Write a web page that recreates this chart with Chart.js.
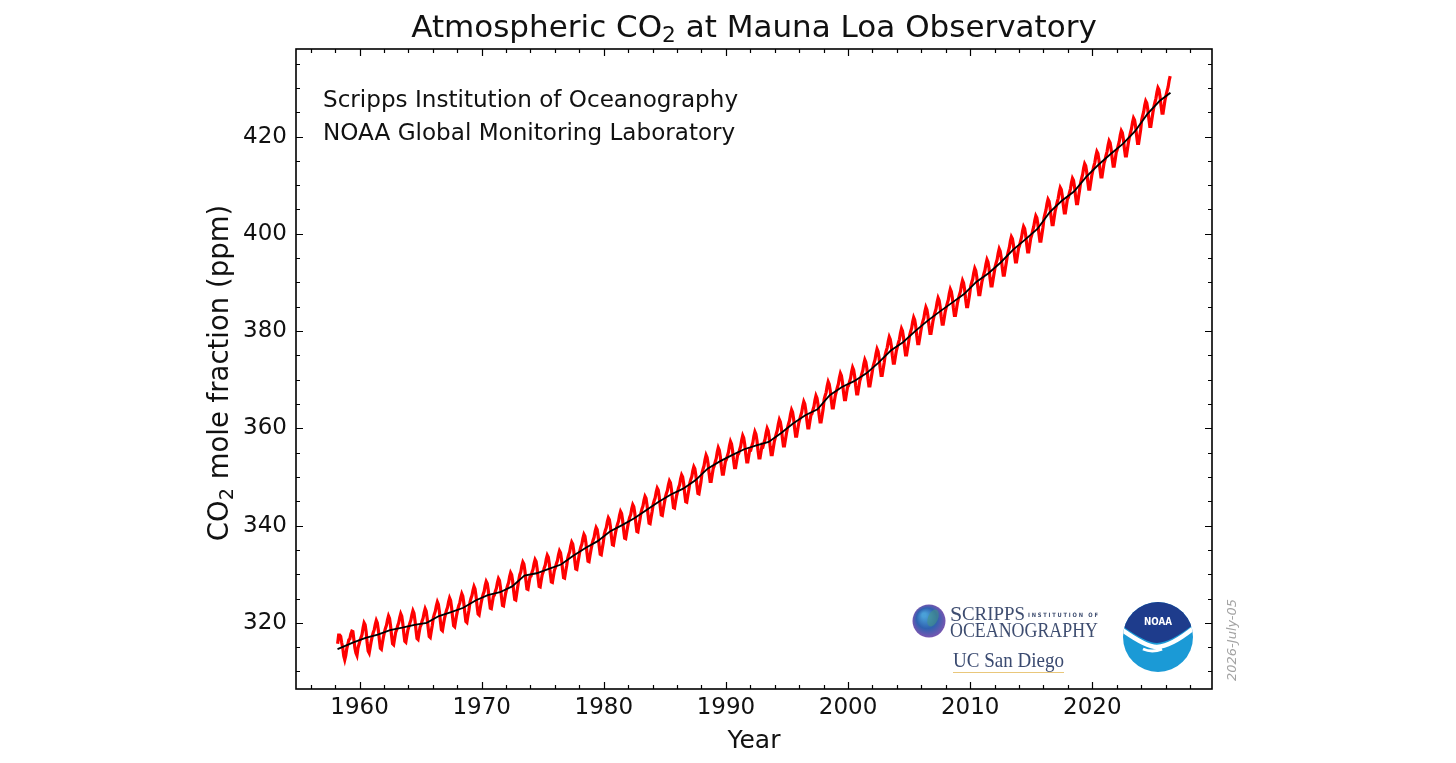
<!DOCTYPE html>
<html>
<head>
<meta charset="utf-8">
<title>Atmospheric CO2 at Mauna Loa Observatory</title>
<script src="https://cdn.jsdelivr.net/npm/chart.js@4.4.1/dist/chart.umd.min.js"></script>
<style>
  html, body { margin: 0; padding: 0; background: #fff; }
  canvas { display: block; }
</style>
</head>
<body>
<canvas id="co2Chart" width="1456" height="763"></canvas>
<script>
// monthly mean CO2 (ppm), first value is March 1958
const firstYear = 1958;
const firstMonth = 3;
const co2_1958_59 = [
  315.7, 317.5, 317.5, 317.2, 315.9, 314.9, 313.2, 312.4, 313.3, 314.7,
  315.6, 316.5, 316.7, 317.7, 318.3, 318.2, 316.5, 314.8, 313.8, 313.3, 314.8, 315.6
];
const co2_1960s = [
  316.4, 317.0, 317.6, 319.0, 320.0, 319.6, 318.2, 315.9, 314.2, 313.8, 315.0, 316.2,
  317.2, 318.0, 318.6, 319.7, 320.5, 320.0, 318.5, 316.5, 314.8, 314.6, 315.9, 317.1,
  318.1, 318.9, 319.5, 320.6, 321.4, 320.9, 319.4, 317.4, 315.7, 315.5, 316.8, 318.0,
  318.6, 319.4, 320.0, 321.1, 321.9, 321.4, 319.9, 317.9, 316.2, 316.0, 317.3, 318.5,
  319.2, 320.0, 320.6, 321.7, 322.5, 322.0, 320.5, 318.5, 316.8, 316.6, 317.9, 319.1,
  319.6, 320.4, 321.0, 322.1, 322.9, 322.4, 320.9, 318.9, 317.2, 317.0, 318.3, 319.5,
  321.0, 321.8, 322.4, 323.5, 324.3, 323.8, 322.3, 320.3, 318.6, 318.4, 319.7, 320.9,
  321.8, 322.6, 323.2, 324.3, 325.1, 324.6, 323.1, 321.1, 319.4, 319.2, 320.5, 321.7,
  322.7, 323.5, 324.1, 325.2, 326.0, 325.5, 324.0, 322.0, 320.3, 320.1, 321.4, 322.6,
  324.2, 325.0, 325.6, 326.7, 327.5, 327.0, 325.5, 323.5, 321.8, 321.6, 322.9, 324.1
];
const co2_1970s = [
  325.1, 325.9, 326.5, 327.7, 328.5, 328.1, 326.7, 324.7, 323.0, 322.9, 324.2, 325.4,
  325.7, 326.5, 327.1, 328.3, 329.1, 328.7, 327.3, 325.3, 323.6, 323.5, 324.8, 326.0,
  326.9, 327.7, 328.3, 329.5, 330.3, 329.9, 328.5, 326.5, 324.8, 324.7, 326.1, 327.5,
  328.8, 329.9, 330.5, 331.7, 332.5, 332.1, 330.7, 328.7, 327.0, 326.9, 328.2, 329.4,
  329.6, 330.4, 331.0, 332.2, 333.0, 332.6, 331.2, 329.2, 327.5, 327.4, 328.7, 329.9,
  330.5, 331.3, 331.9, 333.1, 333.9, 333.5, 332.1, 330.1, 328.4, 328.3, 329.6, 330.8,
  331.4, 332.2, 332.8, 334.0, 334.8, 334.4, 333.0, 331.0, 329.3, 329.2, 330.5, 331.7,
  333.2, 334.0, 334.6, 335.8, 336.6, 336.2, 334.8, 332.8, 331.1, 331.0, 332.3, 333.5,
  334.8, 335.6, 336.2, 337.4, 338.2, 337.8, 336.4, 334.4, 332.7, 332.6, 333.9, 335.1,
  336.2, 337.0, 337.6, 338.8, 339.6, 339.2, 337.8, 335.8, 334.1, 334.0, 335.3, 336.5
];
const co2_1980s = [
  338.2, 339.0, 339.6, 340.8, 341.6, 341.2, 339.8, 337.8, 336.1, 336.0, 337.3, 338.5,
  339.5, 340.3, 340.9, 342.1, 342.9, 342.5, 341.1, 339.1, 337.4, 337.3, 338.6, 339.8,
  340.9, 341.7, 342.3, 343.5, 344.3, 343.9, 342.5, 340.5, 338.8, 338.7, 340.0, 341.2,
  342.6, 343.4, 344.0, 345.2, 346.0, 345.6, 344.2, 342.2, 340.5, 340.4, 341.7, 342.9,
  344.3, 345.1, 345.7, 346.9, 347.7, 347.3, 345.9, 343.9, 342.2, 342.1, 343.4, 344.6,
  345.8, 346.6, 347.2, 348.4, 349.2, 348.8, 347.4, 345.4, 343.7, 343.6, 344.9, 346.1,
  347.0, 347.8, 348.4, 349.6, 350.4, 350.0, 348.6, 346.6, 344.9, 344.8, 346.1, 347.3,
  348.7, 349.5, 350.1, 351.3, 352.1, 351.7, 350.3, 348.3, 346.6, 346.5, 347.8, 349.0,
  350.8, 351.6, 352.3, 353.6, 354.5, 354.0, 352.7, 350.7, 349.1, 349.1, 350.4, 351.7,
  352.3, 353.1, 353.8, 355.1, 356.0, 355.5, 354.2, 352.2, 350.6, 350.6, 351.9, 353.2
];
const co2_1990s = [
  353.6, 354.4, 355.1, 356.4, 357.3, 356.8, 355.5, 353.5, 351.9, 351.9, 353.2, 354.5,
  354.8, 355.6, 356.3, 357.6, 358.5, 358.0, 356.7, 354.7, 353.1, 353.1, 354.4, 355.7,
  355.6, 356.4, 357.1, 358.4, 359.3, 358.8, 357.5, 355.5, 353.9, 353.9, 355.2, 356.5,
  356.3, 357.1, 357.8, 359.1, 360.0, 359.5, 358.2, 356.2, 354.6, 354.6, 355.9, 357.2,
  358.1, 358.9, 359.6, 360.9, 361.8, 361.3, 360.0, 358.0, 356.4, 356.4, 357.7, 359.0,
  360.1, 360.9, 361.6, 362.9, 363.8, 363.3, 362.0, 360.0, 358.4, 358.4, 359.7, 361.0,
  361.8, 362.6, 363.3, 364.6, 365.5, 365.0, 363.7, 361.7, 360.1, 360.1, 361.4, 362.7,
  363.0, 363.8, 364.5, 365.8, 366.7, 366.2, 364.9, 362.9, 361.3, 361.3, 362.6, 363.9,
  365.9, 366.7, 367.4, 368.7, 369.6, 369.1, 367.8, 365.8, 364.2, 364.2, 365.5, 366.8,
  367.6, 368.4, 369.1, 370.4, 371.3, 370.8, 369.5, 367.5, 365.9, 365.9, 367.2, 368.5
];
const co2_2000s = [
  368.8, 369.6, 370.3, 371.6, 372.5, 372.0, 370.7, 368.7, 367.1, 367.1, 368.4, 369.7,
  370.4, 371.2, 371.9, 373.2, 374.1, 373.6, 372.3, 370.3, 368.7, 368.7, 370.0, 371.3,
  372.6, 373.4, 374.1, 375.4, 376.3, 375.8, 374.5, 372.5, 370.9, 370.9, 372.2, 373.5,
  375.1, 375.9, 376.6, 377.9, 378.8, 378.3, 377.0, 375.0, 373.4, 373.4, 374.7, 376.0,
  376.8, 377.6, 378.3, 379.6, 380.5, 380.0, 378.7, 376.7, 375.1, 375.1, 376.4, 377.7,
  379.1, 379.9, 380.6, 381.9, 382.8, 382.3, 381.0, 379.0, 377.4, 377.4, 378.7, 380.0,
  381.2, 382.0, 382.7, 384.0, 384.9, 384.4, 383.1, 381.1, 379.5, 379.5, 380.8, 382.1,
  383.1, 383.9, 384.6, 385.9, 386.8, 386.3, 385.0, 383.0, 381.4, 381.4, 382.7, 384.0,
  384.9, 385.7, 386.4, 387.7, 388.6, 388.1, 386.8, 384.8, 383.2, 383.2, 384.5, 385.8,
  386.7, 387.5, 388.2, 389.5, 390.4, 389.9, 388.6, 386.6, 385.0, 385.0, 386.3, 387.6
];
const co2_2010s = [
  389.2, 390.0, 390.7, 392.0, 392.9, 392.4, 391.1, 389.1, 387.5, 387.5, 388.8, 390.1,
  391.0, 391.8, 392.5, 393.8, 394.7, 394.2, 392.9, 390.9, 389.3, 389.3, 390.6, 391.9,
  393.2, 394.0, 394.7, 396.0, 396.9, 396.4, 395.1, 393.1, 391.5, 391.5, 392.8, 394.1,
  395.5, 396.4, 397.2, 398.5, 399.4, 399.0, 397.7, 395.8, 394.2, 394.2, 395.6, 397.0,
  397.6, 398.5, 399.3, 400.6, 401.5, 401.1, 399.8, 397.9, 396.3, 396.3, 397.7, 399.1,
  399.8, 400.7, 401.5, 402.8, 403.7, 403.3, 402.0, 400.1, 398.5, 398.5, 399.9, 401.3,
  403.2, 404.1, 404.9, 406.2, 407.1, 406.7, 405.4, 403.5, 401.9, 401.9, 403.3, 404.7,
  405.6, 406.5, 407.3, 408.6, 409.5, 409.1, 407.8, 405.9, 404.3, 404.3, 405.7, 407.1,
  407.5, 408.4, 409.2, 410.5, 411.4, 411.0, 409.7, 407.8, 406.2, 406.2, 407.6, 409.0,
  410.5, 411.4, 412.2, 413.5, 414.4, 414.0, 412.7, 410.8, 409.2, 409.2, 410.6, 412.0
];
const co2_2020s = [
  413.0, 413.9, 414.7, 416.0, 416.9, 416.5, 415.2, 413.3, 411.7, 411.7, 413.1, 414.5,
  415.2, 416.1, 416.9, 418.2, 419.1, 418.7, 417.4, 415.5, 413.9, 413.9, 415.3, 416.7,
  417.3, 418.2, 419.0, 420.3, 421.2, 420.8, 419.5, 417.6, 416.0, 416.0, 417.4, 418.8,
  419.9, 420.8, 421.6, 422.9, 423.8, 423.4, 422.1, 420.2, 418.6, 418.6, 420.0, 421.4,
  423.4, 424.3, 425.1, 426.4, 427.3, 426.9, 425.6, 423.7, 422.1, 422.1, 423.5, 424.9,
  426.1, 427.0, 427.8, 429.1, 430.0, 429.6, 428.3, 426.4, 424.8, 424.8, 426.2, 427.6,
  428.5, 429.4, 430.2, 431.5, 432.4
];

// seasonally corrected trend: start point, annual means 1959-2025 (mid-year), end point
const trendStart = { x: 1958.2, y: 314.6 };
const trendEnd = { x: 2026.4, y: 429.0 };
const trendFirstYear = 1959;
const trendMeans = [
  316.0, 316.9, 317.6, 318.5, 319.0, 319.6, 320.0, 321.4, 322.2,
  323.1, 324.6, 325.7, 326.3, 327.5, 329.7, 330.2, 331.1, 332.0, 333.8,
  335.4, 336.8, 338.8, 340.1, 341.5, 343.2, 344.9, 346.4, 347.6, 349.3,
  351.7, 353.2, 354.5, 355.7, 356.5, 357.2, 359.0, 361.0, 362.7, 363.9,
  366.8, 368.5, 369.7, 371.3, 373.5, 376.0, 377.7, 380.0, 382.1, 384.0,
  385.8, 387.6, 390.1, 391.9, 394.1, 396.7, 398.8, 401.0, 404.4, 406.8,
  408.7, 411.7, 414.2, 416.4, 418.5, 421.1, 424.6, 427.3
];

const xTicks = [1960, 1970, 1980, 1990, 2000, 2010, 2020];
const yTicks = [320, 340, 360, 380, 400, 420];
const xRange = [1954.8, 2029.8];
const yRange = [306.4, 438.0];

const monthly = [].concat(co2_1958_59, co2_1960s, co2_1970s, co2_1980s, co2_1990s, co2_2000s, co2_2010s, co2_2020s);
const monthlyPoints = monthly.map((v, i) => ({ x: firstYear + (firstMonth - 1 + i + 0.5) / 12, y: v }));
const trendPoints = [trendStart].concat(trendMeans.map((v, i) => ({ x: trendFirstYear + i + 0.5, y: v })), [trendEnd]);

const FONT = "'DejaVu Sans', sans-serif";

// text pieces, {sub:true} pieces are drawn as subscript
function pieceWidth(ctx, parts, size) {
  let w = 0;
  parts.forEach(p => {
    ctx.font = (p.sub ? size * 0.7 : size) + 'px ' + FONT;
    w += ctx.measureText(p.t).width;
  });
  return w;
}
function drawPieces(ctx, parts, size, x, y) {
  let cx = x - pieceWidth(ctx, parts, size) / 2;
  ctx.textAlign = 'left';
  ctx.textBaseline = 'alphabetic';
  parts.forEach(p => {
    ctx.font = (p.sub ? size * 0.7 : size) + 'px ' + FONT;
    ctx.fillText(p.t, cx, p.sub ? y + size * 0.17 : y);
    cx += ctx.measureText(p.t).width;
  });
}

function drawLogos(ctx) {
  // scripps globe
  const g = ctx.createRadialGradient(924, 615, 2, 929, 621, 17);
  g.addColorStop(0, '#4aa0d8');
  g.addColorStop(0.55, '#2f62b0');
  g.addColorStop(1, '#7b55b0');
  ctx.fillStyle = g;
  ctx.beginPath(); ctx.arc(929, 621, 16.5, 0, Math.PI * 2); ctx.fill();
  ctx.fillStyle = 'rgba(70,150,130,0.55)';
  ctx.beginPath(); ctx.ellipse(933, 618, 5, 9, 0.4, 0, Math.PI * 2); ctx.fill();

  ctx.fillStyle = '#3e4d70';
  ctx.textAlign = 'left';
  ctx.textBaseline = 'alphabetic';
  ctx.font = "22px 'Liberation Serif', serif";
  ctx.fillText('S', 950, 621);
  ctx.font = "19px 'Liberation Serif', serif";
  ctx.fillText('CRIPPS', 962, 620, 63);
  ctx.font = "bold 6px 'DejaVu Sans', sans-serif";
  ctx.fillText('I N S T I T U T I O N   O F', 1028, 617, 70);
  ctx.font = "20px 'Liberation Serif', serif";
  ctx.fillText('OCEANOGRAPHY', 950, 637, 148);
  ctx.fillStyle = '#3a4a70';
  ctx.font = "21px 'Liberation Serif', serif";
  ctx.fillText('UC San Diego', 953, 667, 111);
  ctx.strokeStyle = '#e9c77b';
  ctx.lineWidth = 1;
  ctx.beginPath(); ctx.moveTo(953, 672.5); ctx.lineTo(1064, 672.5); ctx.stroke();

  // noaa emblem
  const cx = 1158, cy = 637, r = 35;
  ctx.save();
  ctx.beginPath(); ctx.arc(cx, cy, r, 0, Math.PI * 2);
  ctx.fillStyle = '#1b9ad6';
  ctx.fill();
  ctx.clip();
  ctx.fillStyle = '#1e3c8c';
  ctx.beginPath();
  ctx.moveTo(cx - r - 2, cy - 12);
  ctx.quadraticCurveTo(cx - 12, cy + 6, cx - 1, cy + 6);
  ctx.quadraticCurveTo(cx + 14, cy + 5, cx + r + 2, cy - 14);
  ctx.lineTo(cx + r + 2, cy - r - 2);
  ctx.lineTo(cx - r - 2, cy - r - 2);
  ctx.closePath();
  ctx.fill();
  ctx.strokeStyle = '#fff';
  ctx.lineWidth = 4.5;
  ctx.beginPath();
  ctx.moveTo(cx - r - 2, cy - 8);
  ctx.quadraticCurveTo(cx - 12, cy + 10, cx - 1, cy + 10);
  ctx.quadraticCurveTo(cx + 14, cy + 9, cx + r + 2, cy - 10);
  ctx.stroke();
  ctx.lineWidth = 3;
  ctx.beginPath();
  ctx.moveTo(cx - 15, cy + 12);
  ctx.quadraticCurveTo(cx - 6, cy + 16, cx + 4, cy + 12);
  ctx.stroke();
  ctx.restore();
  ctx.fillStyle = '#fff';
  ctx.font = "bold 10px 'DejaVu Sans', sans-serif";
  ctx.textAlign = 'center';
  ctx.fillText('NOAA', cx, cy - 12, 28);
}

const decorations = {
  id: 'decorations',
  afterDraw(chart) {
    const { ctx, chartArea: a, scales: { x, y } } = chart;
    ctx.save();
    // inward ticks on all four sides
    ctx.strokeStyle = '#000';
    ctx.lineWidth = 1.2;
    ctx.beginPath();
    for (let v = 1956; v <= 2028; v += 2) {
      const px = Math.round(x.getPixelForValue(v)) + 0.5;
      const len = v % 10 === 0 ? 7 : 4;
      ctx.moveTo(px, a.bottom); ctx.lineTo(px, a.bottom - len);
      ctx.moveTo(px, a.top); ctx.lineTo(px, a.top + len);
    }
    for (let v = 310; v <= 435; v += 5) {
      const py = Math.round(y.getPixelForValue(v)) + 0.5;
      const len = v % 20 === 0 ? 7 : 4;
      ctx.moveTo(a.left, py); ctx.lineTo(a.left + len, py);
      ctx.moveTo(a.right, py); ctx.lineTo(a.right - len, py);
    }
    ctx.stroke();
    ctx.lineWidth = 1.6;
    ctx.strokeRect(a.left, a.top, a.right - a.left, a.bottom - a.top);

    const mid = (a.left + a.right) / 2;
    ctx.fillStyle = '#111';
    drawPieces(ctx, [{ t: 'Atmospheric CO' }, { t: '2', sub: true }, { t: ' at Mauna Loa Observatory' }], 31, mid, 37);

    ctx.font = '25px ' + FONT;
    ctx.textAlign = 'center';
    ctx.fillText('Year', mid, 748);

    ctx.save();
    ctx.translate(228, 373);
    ctx.rotate(-Math.PI / 2);
    drawPieces(ctx, [{ t: 'CO' }, { t: '2', sub: true }, { t: ' mole fraction (ppm)' }], 27.5, 0, 0);
    ctx.restore();

    ctx.font = '23.1px ' + FONT;
    ctx.textAlign = 'left';
    ctx.fillText('Scripps Institution of Oceanography', 323, 107);
    ctx.fillText('NOAA Global Monitoring Laboratory', 323, 140);

    drawLogos(ctx);

    ctx.save();
    ctx.translate(1236, 640);
    ctx.rotate(-Math.PI / 2);
    ctx.fillStyle = '#a3a3a3';
    ctx.font = 'italic 13px ' + FONT;
    ctx.textAlign = 'center';
    ctx.fillText('2026-July-05', 0, 0);
    ctx.restore();
    ctx.restore();
  }
};

new Chart(document.getElementById('co2Chart'), {
  type: 'line',
  data: {
    datasets: [{
      label: 'trend',
      data: trendPoints,
      borderColor: '#000',
      borderWidth: 1.8,
      pointRadius: 0,
      tension: 0,
      order: 0
    }, {
      label: 'monthly mean',
      data: monthlyPoints,
      borderColor: '#ff0000',
      borderWidth: 3.2,
      pointRadius: 0,
      tension: 0,
      order: 1
    }]
  },
  options: {
    responsive: false,
    devicePixelRatio: 1,
    animation: false,
    layout: { padding: { left: 0, right: 244, top: 49, bottom: 0 } },
    plugins: { legend: { display: false }, tooltip: { enabled: false }, title: { display: false } },
    scales: {
      x: {
        type: 'linear',
        min: xRange[0],
        max: xRange[1],
        grid: { display: false, drawTicks: false },
        border: { display: false },
        afterBuildTicks: s => { s.ticks = xTicks.map(v => ({ value: v })); },
        afterFit: s => { s.height = 74; },
        ticks: { color: '#111', padding: 5, maxRotation: 0, font: { family: 'DejaVu Sans', size: 23 }, callback: v => String(v) }
      },
      y: {
        min: yRange[0],
        max: yRange[1],
        grid: { display: false, drawTicks: false },
        border: { display: false },
        afterBuildTicks: s => { s.ticks = yTicks.map(v => ({ value: v })); },
        afterFit: s => { s.width = 296; },
        ticks: { color: '#111', padding: 9, font: { family: 'DejaVu Sans', size: 23 }, callback: v => String(v) }
      }
    }
  },
  plugins: [decorations]
});
</script>
</body>
</html>
